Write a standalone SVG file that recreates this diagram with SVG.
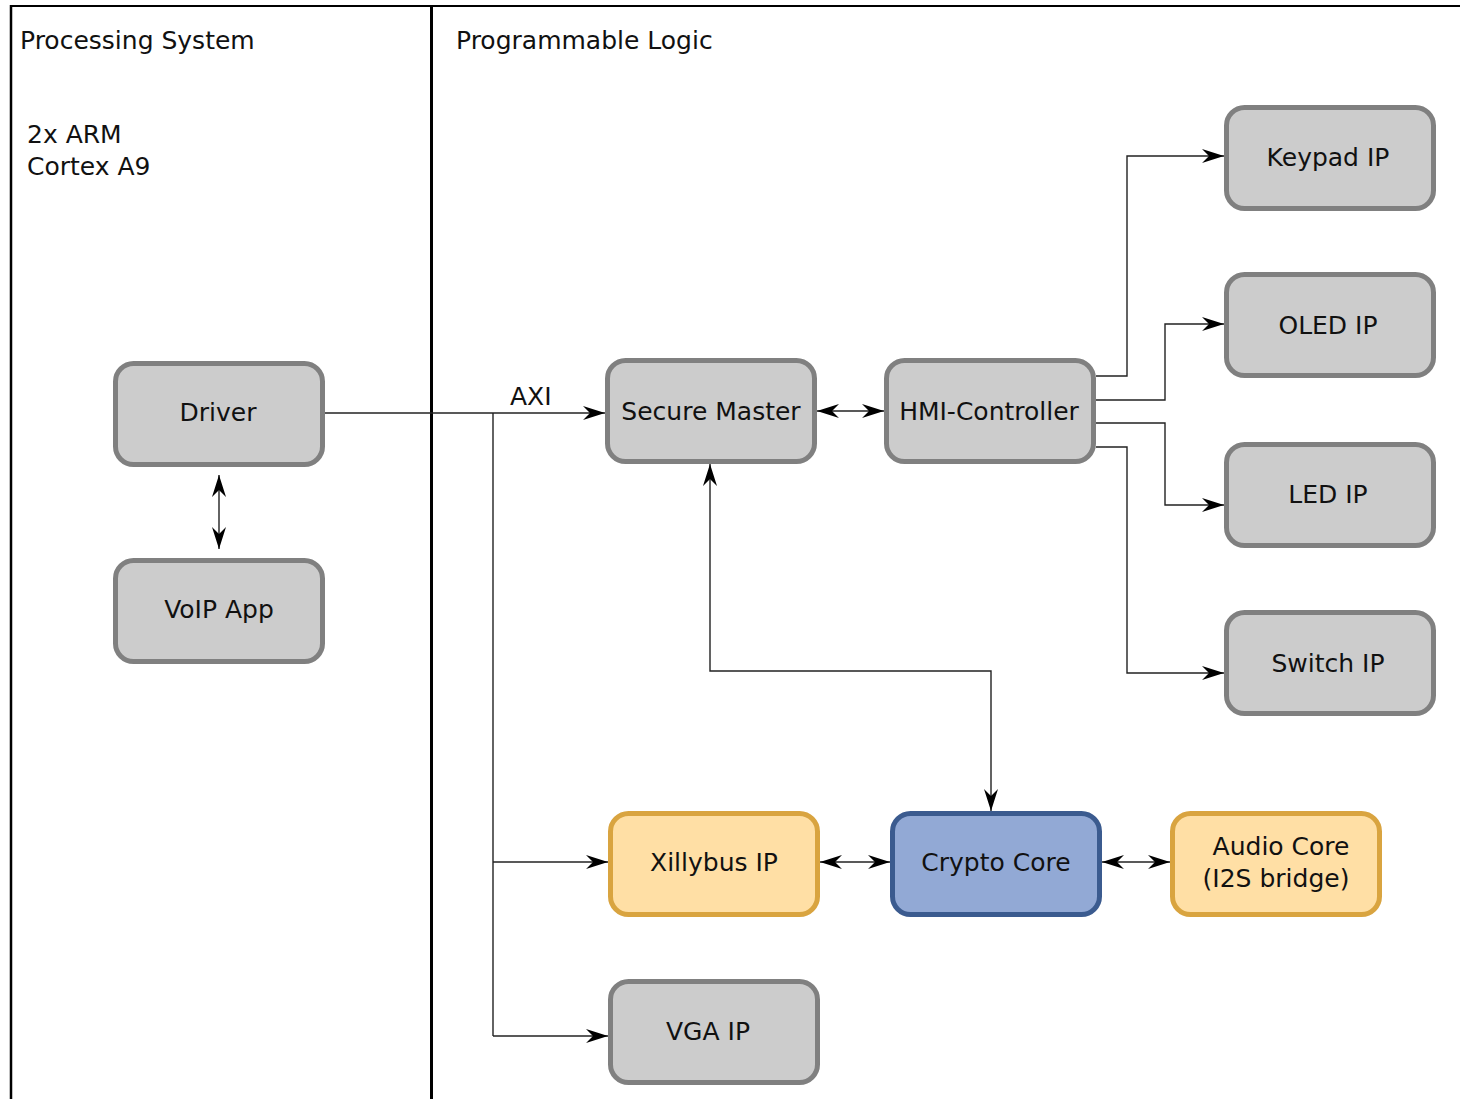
<svg xmlns="http://www.w3.org/2000/svg" width="1460" height="1099" viewBox="0 0 1460 1099">
  <defs>
    <style>
      .frame { stroke: #000; fill: none; }
      .node rect { stroke-width: 5; }
      .grey rect { fill: #cccccc; stroke: #808080; }
      .amber rect { fill: #ffdfa5; stroke: #d9a440; }
      .blue rect { fill: #92a9d5; stroke: #3b5b8f; }
      text { font-family: "DejaVu Sans", "Liberation Sans", sans-serif; font-size: 25px; fill: #111; }
      .node text { text-anchor: middle; }
      .wire { fill: none; stroke: #222; stroke-width: 1.4; }
    </style>
    <marker id="arrow" viewBox="-24 -9 26 18" refX="0" refY="0" markerWidth="26" markerHeight="18" markerUnits="userSpaceOnUse" orient="auto-start-reverse">
      <path d="M0,0 L-22,-7 L-15,0 L-22,7 Z" fill="#000"/>
    </marker>
  </defs>

  <rect width="1460" height="1099" fill="#fff"/>

  <!-- Frame: two regions -->
  <g id="frame">
    <line class="frame" x1="10" y1="6" x2="1460" y2="6" stroke-width="2"/>
    <line class="frame" x1="11" y1="5" x2="11" y2="1099" stroke-width="2.5"/>
    <line class="frame" x1="431.5" y1="5" x2="431.5" y2="1099" stroke-width="3"/>
    <text x="20" y="49">Processing System</text>
    <text x="27" y="143">2x ARM</text>
    <text x="27" y="175">Cortex A9</text>
    <text x="456" y="49">Programmable Logic</text>
  </g>

  <!-- Connectors -->
  <g id="connectors">
    <path class="wire" d="M325,413 H605" marker-end="url(#arrow)"/>
    <text x="510" y="405">AXI</text>
    <path class="wire" d="M493,413 V1036"/>
    <path class="wire" d="M493,862 H608" marker-end="url(#arrow)"/>
    <path class="wire" d="M493,1036 H608" marker-end="url(#arrow)"/>
    <path class="wire" d="M219,475 V549" marker-start="url(#arrow)" marker-end="url(#arrow)"/>
    <path class="wire" d="M817,411 H884" marker-start="url(#arrow)" marker-end="url(#arrow)"/>
    <path class="wire" d="M710,464 V671 H991 V811" marker-start="url(#arrow)" marker-end="url(#arrow)"/>
    <path class="wire" d="M1096,376 H1127 V156 H1224" marker-end="url(#arrow)"/>
    <path class="wire" d="M1096,400 H1165 V324 H1224" marker-end="url(#arrow)"/>
    <path class="wire" d="M1096,423 H1165 V505 H1224" marker-end="url(#arrow)"/>
    <path class="wire" d="M1096,447 H1127 V673 H1224" marker-end="url(#arrow)"/>
    <path class="wire" d="M820,862 H890" marker-start="url(#arrow)" marker-end="url(#arrow)"/>
    <path class="wire" d="M1102,862 H1170" marker-start="url(#arrow)" marker-end="url(#arrow)"/>
  </g>

  <!-- Nodes -->
  <g id="driver" class="node grey">
    <rect x="115.5" y="363.5" width="207" height="101" rx="18"/>
    <text x="218" y="421">Driver</text>
  </g>
  <g id="voip-app" class="node grey">
    <rect x="115.5" y="560.5" width="207" height="101" rx="18"/>
    <text x="219" y="618">VoIP App</text>
  </g>
  <g id="secure-master" class="node grey">
    <rect x="607.5" y="360.5" width="207" height="101" rx="18"/>
    <text x="711" y="420">Secure Master</text>
  </g>
  <g id="hmi-controller" class="node grey">
    <rect x="886.5" y="360.5" width="207" height="101" rx="18"/>
    <text x="989" y="420">HMI-Controller</text>
  </g>
  <g id="keypad-ip" class="node grey">
    <rect x="1226.5" y="107.5" width="207" height="101" rx="18"/>
    <text x="1328" y="166">Keypad IP</text>
  </g>
  <g id="oled-ip" class="node grey">
    <rect x="1226.5" y="274.5" width="207" height="101" rx="18"/>
    <text x="1328" y="334">OLED IP</text>
  </g>
  <g id="led-ip" class="node grey">
    <rect x="1226.5" y="444.5" width="207" height="101" rx="18"/>
    <text x="1328" y="503">LED IP</text>
  </g>
  <g id="switch-ip" class="node grey">
    <rect x="1226.5" y="612.5" width="207" height="101" rx="18"/>
    <text x="1328" y="672">Switch IP</text>
  </g>
  <g id="xillybus-ip" class="node amber">
    <rect x="610.5" y="813.5" width="207" height="101" rx="18"/>
    <text x="714" y="871">Xillybus IP</text>
  </g>
  <g id="crypto-core" class="node blue">
    <rect x="892.5" y="813.5" width="207" height="101" rx="18"/>
    <text x="996" y="871">Crypto Core</text>
  </g>
  <g id="audio-core" class="node amber">
    <rect x="1172.5" y="813.5" width="207" height="101" rx="18"/>
    <text x="1281" y="855">Audio Core</text>
    <text x="1276" y="887">(I2S bridge)</text>
  </g>
  <g id="vga-ip" class="node grey">
    <rect x="610.5" y="981.5" width="207" height="101" rx="18"/>
    <text x="708" y="1040">VGA IP</text>
  </g>
</svg>
